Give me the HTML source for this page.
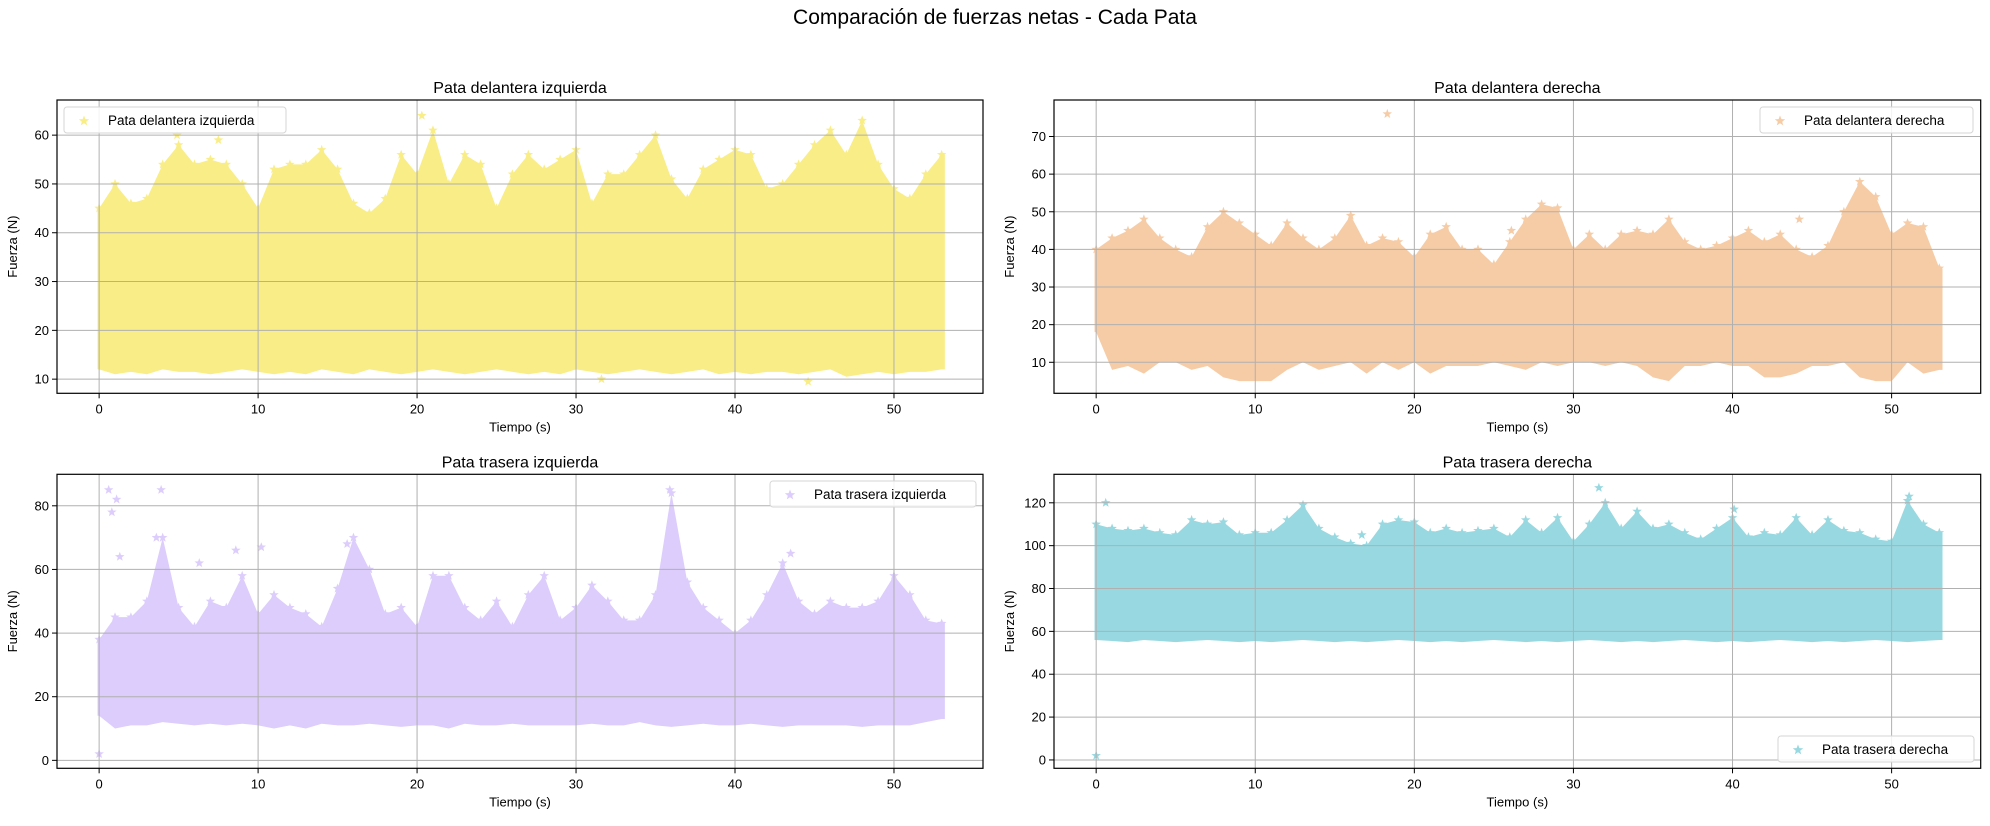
<!DOCTYPE html>
<html><head><meta charset="utf-8"><style>
body{margin:0;background:#fff;}
svg text{font-family:"Liberation Sans","DejaVu Sans",sans-serif;fill:#000;}
</style></head><body>
<svg id="fig" width="1990" height="821" viewBox="0 0 1990 821" xmlns="http://www.w3.org/2000/svg">
<text x="995" y="24" font-size="21" text-anchor="middle">Comparación de fuerzas netas - Cada Pata</text>
</svg>
<script>
const times = [0,1,2,3,4,5,6,7,8,9,10,11,12,13,14,15,16,17,18,19,20,21,22,23,24,25,26,27,28,29,30,31,32,33,34,35,36,37,38,39,40,41,42,43,44,45,46,47,48,49,50,51,52,53];
const fliUpper = [45,50,46,47,54,58,54,55,54,50,45,53,54,54,57,53,46,44,47,56,52,61,50,56,54,45,52,56,53,55,57,46,52,52,56,60,51,47,53,55,57,56,49,50,54,58,61,56,63,54,49,47,52,56];
const fliLower = [12,11,11.5,11,12,11.5,11.5,11,11.5,12,11.5,11,11.5,11,12,11.5,11,12,11.5,11,11.5,12,11.5,11,11.5,12,11.5,11,11.5,11,12,11.5,11,11.5,12,11.5,11,11.5,12,11,11.5,11,11.5,11.5,11,11.5,12,10.5,11,11.5,11,11.5,11.5,12];
const fliOutT = [4.9,7.5,20.3,31.6,44.6];
const fliOutV = [60,59,64,10,9.5];
const friUpper = [40,43,45,48,43,40,38,46,50,47,44,41,47,43,40,43,49,41,43,42,38,44,46,40,40,36,42,48,52,51,40,44,40,44,45,44,48,42,40,41,43,45,42,44,40,38,41,50,58,54,44,47,46,35];
const friLower = [18,8,9,7,10,10,8,9,6,5,5,5,8,10,8,9,10,7,10,8,10,7,9,9,9,10,9,8,10,9,10,10,9,10,9,6,5,9,9,10,9,9,6,6,7,9,9,10,6,5,5,10,7,8];
const friOutT = [18.3,26.1,44.2];
const friOutV = [76,45,48];
const hliUpper = [38,45,45,50,70,48,42,50,48,58,46,52,48,46,42,54,70,60,46,48,42,58,58,48,44,50,42,52,58,44,48,55,50,44,44,52,84,56,48,44,40,44,52,62,50,46,50,48,48,50,58,52,44,43];
const hliLower = [14,10,11,11,12,11.5,11,11.5,11,11.5,11,10,11,10,11.5,11,11,11.5,11,10.5,11,11,10,11.5,11,11,11.5,11,11,11,11,11.5,11,11,12,11,10.5,11,11.5,11,11,11.5,11,10.5,11,11,11,11,10.5,11,11,11,12,13];
const hliOutT = [0,0.6,0.8,1.1,1.3,3.9,3.6,6.3,8.6,10.2,15.6,35.9,43.5];
const hliOutV = [2,85,78,82,64,85,70,62,66,67,68,85,65];
const hrdUpper = [110,108,107,108,106,105,112,110,111,105,106,106,112,119,108,104,101,100,110,112,111,106,108,106,107,108,104,112,106,113,102,110,120,108,116,108,110,106,103,108,113,104,106,105,113,105,112,107,106,103,102,121,110,106];
const hrdLower = [56,55.5,55,56,55.5,55,55.5,56,55.5,55,55.5,55,55.5,56,55.5,55,55.5,55,55.5,56,55.5,55,55.5,55,55.5,56,55.5,55,55.5,55,55.5,56,55.5,55,55.5,55,55.5,56,55.5,55,55.5,55,55.5,56,55.5,55,55.5,55,55.5,56,55.5,55,55.5,56];
const hrdOutT = [0,0.6,16.7,31.6,40.1,51.1];
const hrdOutV = [2,120,105,127,117,123];
const xTicks = [0,10,20,30,40,50];
const NS='http://www.w3.org/2000/svg';
const fig=document.getElementById('fig');
function mk(tag,attrs,parent){const e=document.createElementNS(NS,tag);for(const k in attrs)e.setAttribute(k,attrs[k]);(parent||fig).appendChild(e);return e;}
function starPath(cx,cy,r){let d='';for(let i=0;i<10;i++){const a=-Math.PI/2+i*Math.PI/5;const rr=i%2?r*0.42:r;d+=(i?'L':'M')+(cx+rr*Math.cos(a)).toFixed(1)+','+(cy+rr*Math.sin(a)).toFixed(1);}return d+'Z';}
function panel(o){
  const g=mk('g',{});
  
  
  const X=t=>o.x0+(t-o.xmin)/(o.xmax-o.xmin)*(o.x1-o.x0);
  const Y=v=>o.y1-(v-o.ymin)/(o.ymax-o.ymin)*(o.y1-o.y0);
  const cp='cp'+o.id;
  const defs=mk('defs',{},g);const c=mk('clipPath',{id:cp},defs);mk('rect',{x:o.x0,y:o.y0,width:o.x1-o.x0,height:o.y1-o.y0},c);
  // data layer
  const dg=mk('g',{'clip-path':'url(#'+cp+')'},g);
  let d='M'+X(times[0]-0.1)+','+Y(o.lower[0]);
  d+='L'+X(times[0]-0.1)+','+Y(o.upper[0]);
  for(let i=0;i<times.length;i++){const t=Math.min(times[i],53.2);d+='L'+X(t)+','+Y(o.upper[i]);}
  d+='L'+X(53.2)+','+Y(o.upper[o.upper.length-1]);
  d+='L'+X(53.2)+','+Y(o.lower[o.lower.length-1]);
  for(let i=times.length-1;i>=0;i--){const t=Math.min(times[i],53.2);d+='L'+X(t)+','+Y(o.lower[i]);}
  d+='Z';
  const band=mk('path',{d:d,fill:o.color},dg);
  
  
  for(let i=0;i<times.length;i++){
    const s=mk('path',{d:starPath(X(Math.min(times[i],53.2)),Y(o.upper[i]),5),fill:o.color},dg);
    
    
  }
  for(let i=0;i<o.outT.length;i++){
    const s=mk('path',{d:starPath(X(o.outT[i]),Y(o.outV[i]),5),fill:o.color},dg);
    
    
  }
  // grid
  xTicks.forEach(t=>{mk('line',{x1:X(t),x2:X(t),y1:o.y0,y2:o.y1,stroke:'#b0b0b0','stroke-width':1},g);
    mk('line',{x1:X(t),x2:X(t),y1:o.y1,y2:o.y1+5,stroke:'#000','stroke-width':1},g);
    const tx=mk('text',{x:X(t),y:o.y1+20,'font-size':13,'text-anchor':'middle'},g);tx.textContent=t;
    
    });
  o.yTicks.forEach(v=>{mk('line',{x1:o.x0,x2:o.x1,y1:Y(v),y2:Y(v),stroke:'#b0b0b0','stroke-width':1},g);
    mk('line',{x1:o.x0-5,x2:o.x0,y1:Y(v),y2:Y(v),stroke:'#000','stroke-width':1},g);
    const tx=mk('text',{x:o.x0-8,y:Y(v)+4.5,'font-size':13,'text-anchor':'end'},g);tx.textContent=v;
    
    });
  mk('rect',{x:o.x0,y:o.y0,width:o.x1-o.x0,height:o.y1-o.y0,fill:'none',stroke:'#000','stroke-width':1.2},g);
  const ti=mk('text',{x:(o.x0+o.x1)/2,y:o.y0-7,'font-size':16,'text-anchor':'middle'},g);ti.textContent=o.title;
  
  
  const xl=mk('text',{x:(o.x0+o.x1)/2,y:o.y1+38,'font-size':13,'text-anchor':'middle'},g);xl.textContent='Tiempo (s)';
  
  
  const yx=o.x0-40,yy=(o.y0+o.y1)/2;
  const yl=mk('text',{x:yx,y:yy,'font-size':13,'text-anchor':'middle',transform:'rotate(-90 '+yx+' '+yy+')'},g);yl.textContent='Fuerza (N)';
  
  
  // legend
  const lg=mk('g',{},g);
  
  
  mk('rect',{x:o.lx,y:o.ly,width:o.lw,height:26,rx:3,fill:'rgba(255,255,255,0.85)',stroke:'#d6d6d6'},lg);
  mk('path',{d:starPath(o.lx+20,o.ly+14,5.5),fill:o.color},lg);
  const lt=mk('text',{x:o.lx+44,y:o.ly+18,'font-size':13.5},lg);lt.textContent=o.title;
  
  
}
panel({id:'fli',name:'panel-front-left',title:'Pata delantera izquierda',x0:57,x1:983,y0:100,y1:393.3,xmin:-2.65,xmax:55.6,ymin:7.1,ymax:67.2,yTicks:[10,20,30,40,50,60],upper:fliUpper,lower:fliLower,outT:fliOutT,outV:fliOutV,color:'#f9ed87',lx:64,ly:107,lw:222});
panel({id:'fri',name:'panel-front-right',title:'Pata delantera derecha',x0:1054,x1:1980.7,y0:100,y1:393.3,xmin:-2.65,xmax:55.6,ymin:1.76,ymax:79.7,yTicks:[10,20,30,40,50,60,70],upper:friUpper,lower:friLower,outT:friOutT,outV:friOutV,color:'#f6cca6',lx:1760,ly:107,lw:213});
panel({id:'hli',name:'panel-hind-left',title:'Pata trasera izquierda',x0:57,x1:983,y0:474.3,y1:768.3,xmin:-2.65,xmax:55.6,ymin:-2.5,ymax:89.9,yTicks:[0,20,40,60,80],upper:hliUpper,lower:hliLower,outT:hliOutT,outV:hliOutV,color:'#dccdfc',lx:770,ly:481,lw:206});
panel({id:'hrd',name:'panel-hind-right',title:'Pata trasera derecha',x0:1054,x1:1980.7,y0:474.3,y1:768.3,xmin:-2.65,xmax:55.6,ymin:-3.9,ymax:133.3,yTicks:[0,20,40,60,80,100,120],upper:hrdUpper,lower:hrdLower,outT:hrdOutT,outV:hrdOutV,color:'#98d8e0',lx:1778,ly:736,lw:196});
</script>
</body></html>
